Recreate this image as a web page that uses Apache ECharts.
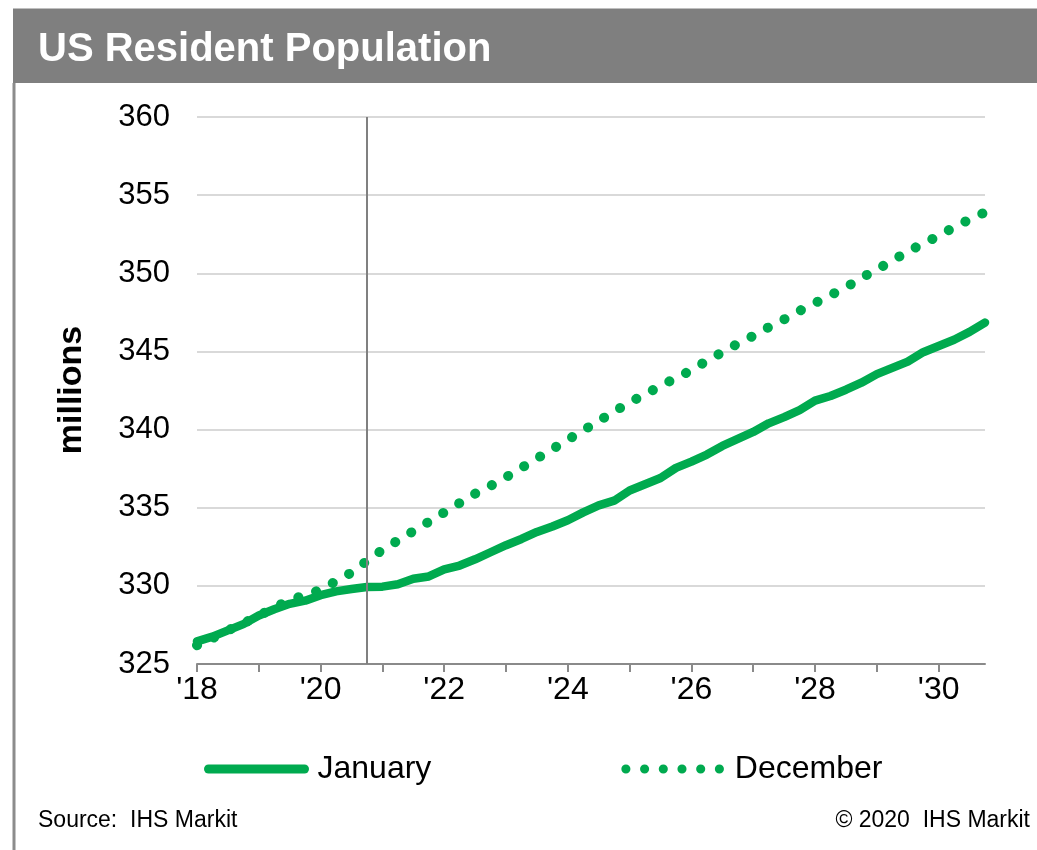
<!DOCTYPE html>
<html>
<head>
<meta charset="utf-8">
<script src="https://cdn.jsdelivr.net/npm/echarts@6/dist/echarts.min.js"></script>
<style>
html,body{margin:0;padding:0;background:#fff;}
#main{width:1037px;height:850px;}
</style>
</head>
<body>
<div id="main"></div>
<script>
// quarterly, 2018Q1 - 2030Q4
var quarters = [
  '2018Q1','2018Q2','2018Q3','2018Q4','2019Q1','2019Q2','2019Q3','2019Q4',
  '2020Q1','2020Q2','2020Q3','2020Q4','2021Q1','2021Q2','2021Q3','2021Q4',
  '2022Q1','2022Q2','2022Q3','2022Q4','2023Q1','2023Q2','2023Q3','2023Q4',
  '2024Q1','2024Q2','2024Q3','2024Q4','2025Q1','2025Q2','2025Q3','2025Q4',
  '2026Q1','2026Q2','2026Q3','2026Q4','2027Q1','2027Q2','2027Q3','2027Q4',
  '2028Q1','2028Q2','2028Q3','2028Q4','2029Q1','2029Q2','2029Q3','2029Q4',
  '2030Q1','2030Q2','2030Q3','2030Q4'
];
// January forecast (millions)
var january = [
  326.45,326.75,327.15,327.55,328.1,328.5,328.85,329.05,
  329.4,329.65,329.8,329.93,329.95,330.1,330.45,330.6,
  331.05,331.3,331.7,332.15,332.6,333.0,333.45,333.8,
  334.2,334.7,335.15,335.45,336.1,336.5,336.9,337.55,
  337.95,338.4,338.95,339.4,339.85,340.4,340.8,341.25,
  341.85,342.15,342.55,343.0,343.55,343.95,344.35,344.95,
  345.35,345.75,346.25,346.85
];
// December forecast (millions)
var december = [
  326.2,326.65,327.15,327.6,328.1,328.6,329.1,329.4,
  329.75,330.3,330.85,331.6,332.3,332.9,333.5,334.1,
  334.7,335.3,335.9,336.4,336.95,337.55,338.15,338.75,
  339.35,339.95,340.55,341.15,341.75,342.25,342.8,343.3,
  343.8,344.4,344.95,345.5,346.0,346.55,347.05,347.6,
  348.1,348.6,349.1,349.7,350.25,350.8,351.4,351.9,
  352.4,352.95,353.45,353.9
];
var markerQuarter = '2020Q4';

var green = '#00AA4F';
var font = 'Arial, "Liberation Sans", sans-serif';
var chart = echarts.init(document.getElementById('main'));
chart.setOption({
  animation: false,
  backgroundColor: '#fff',
  grid: {left: 197, right: 52, top: 117, bottom: 186},
  graphic: [
    {type: 'rect', left: 13, top: 8, shape: {width: 1024, height: 75}, style: {fill: '#7f7f7f'}},
    {type: 'rect', left: 13, top: 8, shape: {width: 1024, height: 1}, style: {fill: '#bfbfbf'}},
    {type: 'line', shape: {x1: 14, y1: 83, x2: 14, y2: 850}, style: {stroke: '#8c8c8c', lineWidth: 3}},
    {type: 'text', x: 38, y: 50, style: {text: 'US Resident Population', fill: '#fff',
      font: 'bold 40px ' + font, verticalAlign: 'middle'}},
    {type: 'text', x: 72, y: 390, rotation: Math.PI / 2, style: {text: 'millions', fill: '#000',
      font: 'bold 34px ' + font, align: 'center', verticalAlign: 'middle'}},
    {type: 'text', x: 38, y: 821, style: {text: 'Source:  IHS Markit', fill: '#000',
      font: '23px ' + font, verticalAlign: 'middle'}},
    {type: 'text', x: 1030, y: 821, style: {text: '\u00a9 2020  IHS Markit', fill: '#000',
      font: '23px ' + font, align: 'right', verticalAlign: 'middle'}}
  ],
  legend: {
    left: 204, top: 753, padding: 0,
    itemWidth: 96, itemHeight: 10, itemGap: 190,
    textStyle: {fontSize: 32, color: '#000', fontFamily: font, padding: [0, 0, 0, 8]},
    data: [
      {name: 'January', itemStyle: {opacity: 0},
        lineStyle: {width: 9, cap: 'round', color: green}},
      {name: 'December', itemStyle: {opacity: 0},
        lineStyle: {width: 9, cap: 'round', color: green, type: [0.1, 18.6]}}
    ]
  },
  xAxis: {
    type: 'category',
    data: quarters,
    boundaryGap: false,
    axisLine: {lineStyle: {color: '#8a8a8a', width: 2}},
    axisTick: {show: true, interval: 3, length: 8, lineStyle: {color: '#8a8a8a', width: 2}},
    axisLabel: {
      interval: 7, margin: 10,
      color: '#000', fontSize: 32,
      fontFamily: '"Liberation Sans Narrow", "Arial Narrow", Arial, sans-serif',
      formatter: function (v) { return "'" + v.slice(2, 4); }
    },
    splitLine: {show: false}
  },
  yAxis: {
    type: 'value',
    min: 325, max: 360, interval: 5,
    axisLine: {show: false},
    axisTick: {show: false},
    axisLabel: {color: '#000', fontSize: 31, margin: 27, fontFamily: font},
    splitLine: {lineStyle: {color: '#d9d9d9', width: 2}}
  },
  series: [
    {
      name: 'January', type: 'line', data: january,
      symbol: 'none', z: 3,
      lineStyle: {color: green, width: 8.5, cap: 'round', join: 'round'},
      itemStyle: {color: green},
      markLine: {
        silent: true, symbol: 'none', label: {show: false},
        lineStyle: {color: '#808080', width: 2, type: 'solid'},
        data: [{xAxis: markerQuarter}]
      }
    },
    {
      name: 'December', type: 'line', data: december,
      symbol: 'none', z: 4,
      lineStyle: {color: green, width: 10, cap: 'round', type: [0.1, 18.6]},
      itemStyle: {color: green}
    }
  ]
});
</script>
</body>
</html>
